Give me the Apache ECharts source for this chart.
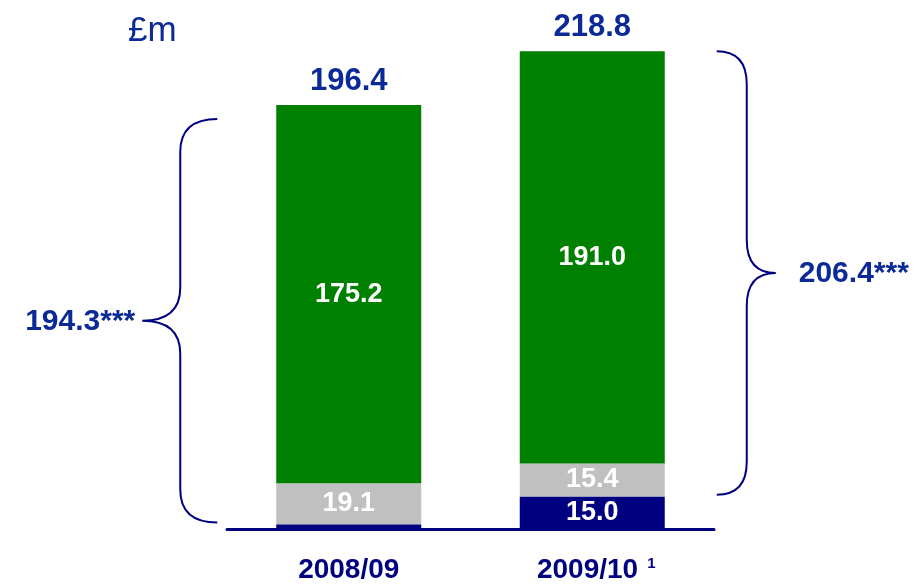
<!DOCTYPE html>
<html>
<head>
<meta charset="utf-8">
<script src="https://cdn.jsdelivr.net/npm/echarts@6/dist/echarts.min.js"></script>
<style>
html,body{margin:0;padding:0;background:#fff;}
#chart{width:924px;height:584px;}
</style>
</head>
<body>
<div id="chart"></div>
<script>
var categories = ['2008/09', '2009/10'];
var categoryNotes = ['', '1'];
var navyValues = [2.1, 15.0];
var greyValues = [19.1, 15.4];
var greenValues = [175.2, 191.0];
var totalLabels = ['196.4', '218.8'];
var braceLabels = ['194.3***', '206.4***'];

var FONT = '"Liberation Sans", Arial, sans-serif';
var BLUE = '#0B2A97';
var NAVY = '#000080';

var chart = echarts.init(document.getElementById('chart'));

var braceData = categories.map(function (c, i) {
  return [i, navyValues[i], navyValues[i] + greyValues[i] + greenValues[i]];
});

function innerLabel(size) {
  return {
    show: true, position: 'inside', color: '#fff', fontFamily: FONT,
    fontWeight: 'bold', fontSize: size
  };
}

var option = {
  animation: false,
  backgroundColor: '#fff',
  grid: { left: 227, right: 210, top: 11, bottom: 54 },
  xAxis: {
    type: 'category',
    data: categories,
    axisLine: { show: true, lineStyle: { color: NAVY, width: 3 } },
    axisTick: { show: false },
    axisLabel: {
      margin: 27,
      formatter: function (v, i) {
        return categoryNotes[i] ? '{p|}{a|' + v + '}{s|' + categoryNotes[i] + '}' : '{a|' + v + '}';
      },
      rich: {
        p: { width: 8 },
        a: { fontFamily: FONT, fontWeight: 'bold', fontSize: 28, color: NAVY },
        s: { fontFamily: FONT, fontWeight: 'bold', fontSize: 15, color: NAVY, verticalAlign: 'top', padding: [0, 0, 12, 9] }
      }
    }
  },
  yAxis: { type: 'value', min: 0, max: 240, show: false, splitLine: { show: false } },
  series: [
    {
      type: 'bar', stack: 's', data: navyValues, barWidth: 145,
      itemStyle: { color: NAVY },
      label: Object.assign(innerLabel(27), {
        formatter: function (p) { return p.value >= 5 ? p.value.toFixed(1) : ''; }
      }),
      z: 3
    },
    {
      type: 'bar', stack: 's', data: greyValues, barWidth: 145,
      itemStyle: { color: '#C0C0C0' },
      label: Object.assign(innerLabel(27), {
        formatter: function (p) { return p.value.toFixed(1); }
      })
    },
    {
      type: 'bar', stack: 's', data: greenValues, barWidth: 145,
      itemStyle: { color: '#008000' },
      label: Object.assign(innerLabel(27), {
        formatter: function (p) { return p.value.toFixed(1); }
      })
    },
    {
      type: 'bar', stack: 's', data: categories.map(function () { return 0; }), barWidth: 145,
      itemStyle: { color: 'transparent' },
      label: {
        show: true, position: 'top', distance: 8, color: BLUE, fontFamily: FONT,
        fontWeight: 'bold', fontSize: 31,
        formatter: function (p) { return totalLabels[p.dataIndex]; }
      }
    },
    {
      type: 'custom',
      data: braceData,
      silent: true,
      z: 5,
      renderItem: function (params, api) {
        var i = api.value(0);
        var pTop = api.coord([i, api.value(2)]);
        var pBot = api.coord([i, api.value(1)]);
        var half = 145 / 2;
        var y1 = pTop[1] + (i === 0 ? 14 : 0), y2 = pBot[1] - 2, ym = (y1 + y2) / 2;
        var r = 33;
        var ex, vx, tx, align, lx;
        if (i === 0) {
          ex = pTop[0] - half - 59; vx = ex - 37; tx = ex - 75;
          align = 'right'; lx = tx - 7;
        } else {
          ex = pTop[0] + half + 52; vx = ex + 30; tx = ex + 59;
          align = 'left'; lx = tx + 23;
        }
        var d = 'M' + ex + ',' + y1 +
          ' Q' + vx + ',' + y1 + ' ' + vx + ',' + (y1 + r) +
          ' L' + vx + ',' + (ym - r) +
          ' Q' + vx + ',' + ym + ' ' + tx + ',' + ym +
          ' Q' + vx + ',' + ym + ' ' + vx + ',' + (ym + r) +
          ' L' + vx + ',' + (y2 - r) +
          ' Q' + vx + ',' + y2 + ' ' + ex + ',' + y2;
        return {
          type: 'group',
          children: [
            {
              type: 'path',
              shape: { pathData: d },
              style: { stroke: NAVY, lineWidth: 2, fill: null }
            },
            {
              type: 'text',
              style: {
                x: lx, y: ym + 1, text: braceLabels[i], align: align, verticalAlign: 'middle',
                fill: BLUE, font: 'bold 30px ' + FONT
              }
            }
          ]
        };
      }
    }
  ],
  graphic: [
    {
      type: 'text', left: 128, top: 14,
      style: { text: '£m', fill: BLUE, font: '35px ' + FONT }
    }
  ]
};

chart.setOption(option);
</script>
</body>
</html>
